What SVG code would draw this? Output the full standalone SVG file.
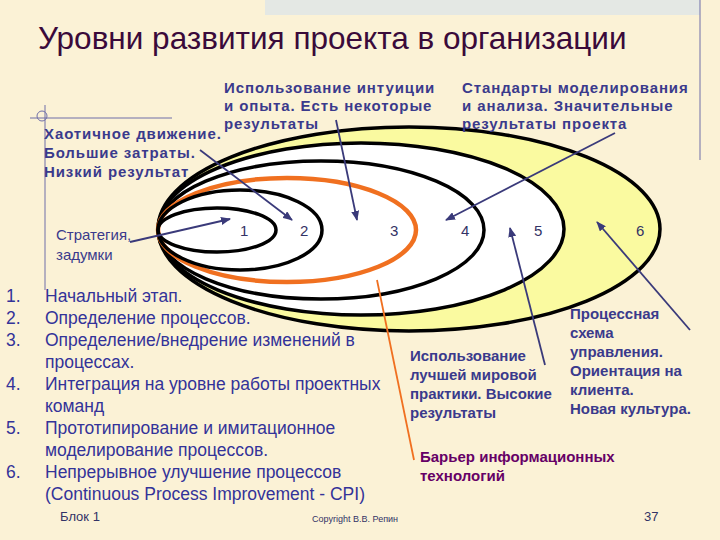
<svg xmlns="http://www.w3.org/2000/svg" width="720" height="540" viewBox="0 0 720 540">
<style>
.lb{font-family:"Liberation Sans",Arial,sans-serif;font-size:15px;font-weight:bold;fill:#3a3a8c}
.top{letter-spacing:0.9px}
.num{font-family:"Liberation Sans",Arial,sans-serif;font-size:15px;fill:#333366}
.li{font-family:"Liberation Sans",Arial,sans-serif;font-size:17.5px;fill:#333399}
.e{stroke:#000;stroke-width:3.5}
.ar{stroke:#3a3a7a;stroke-width:1.8;fill:none;marker-end:url(#ah)}
</style>
<defs><marker id="ah" markerWidth="10" markerHeight="8" refX="9" refY="4" orient="auto" markerUnits="userSpaceOnUse"><path d="M0,0L10,4L0,8z" fill="#3a3a7a"/></marker></defs>
<rect width="720" height="540" fill="#fbf2d6"/>
<rect x="265" y="0" width="435" height="15" fill="#e4e8e4"/>
<g id="decor" stroke="#6f6fa8" stroke-width="1" fill="none">
<line x1="30" y1="118" x2="172" y2="118"/><line x1="45" y1="105" x2="45" y2="290"/><circle cx="42" cy="116" r="5"/>
<line x1="700" y1="0" x2="700" y2="160"/></g>
<text x="38" y="49" font-family="Liberation Sans,Arial,sans-serif" font-size="31.5" fill="#3a0a3a">Уровни развития проекта в организации</text>
<g id="ellipses">
<ellipse cx="409" cy="229" rx="251" ry="102" fill="#fafaa0" class="e"/>
<ellipse cx="361" cy="229" rx="203" ry="86" fill="#fff" class="e"/>
<ellipse cx="321" cy="230" rx="163" ry="69" fill="#fff" class="e"/>
<ellipse cx="287" cy="230" rx="129" ry="52" fill="none" stroke="#f07020" stroke-width="4.5"/>
<ellipse cx="240" cy="230" rx="82" ry="40" fill="none" class="e"/>
<ellipse cx="217" cy="230" rx="59" ry="22" fill="none" class="e"/>
</g>
<g id="numbers" class="num">
<text x="240" y="236">1</text><text x="300" y="236">2</text><text x="390" y="236">3</text><text x="461" y="236">4</text><text x="534" y="236">5</text><text x="636" y="236">6</text></g>
<g id="labels" class="lb">
<text class="top" x="224" y="93">Использование интуиции</text><text class="top" x="224" y="111">и опыта. Есть некоторые</text><text class="top" x="224" y="129">результаты</text>
<text class="top" x="462" y="93">Стандарты моделирования</text><text class="top" x="462" y="111">и анализа. Значительные</text><text class="top" x="462" y="129">результаты проекта</text>
<text class="top" x="44" y="139">Хаотичное движение.</text><text class="top" x="44" y="158">Большие затраты.</text><text class="top" x="44" y="177">Низкий результат</text>
<text x="56" y="240" font-weight="normal">Стратегия,</text><text x="56" y="260" font-weight="normal">задумки</text>
<text x="570" y="319">Процессная</text><text x="570" y="338">схема</text><text x="570" y="357">управления.</text><text x="570" y="376">Ориентация на</text><text x="570" y="395">клиента.</text><text x="570" y="414">Новая культура.</text>
<text x="410" y="361">Использование</text><text x="410" y="380">лучшей мировой</text><text x="410" y="399">практики. Высокие</text><text x="410" y="418">результаты</text>
<text x="420" y="462" fill="#660066">Барьер информационных</text><text x="420" y="481" fill="#660066">технологий</text>
</g>
<g id="connectors">
<line x1="200" y1="150" x2="292" y2="220" class="ar"/>
<line x1="336" y1="120" x2="357" y2="220" class="ar"/>
<line x1="615" y1="133" x2="446" y2="220" class="ar"/>
<line x1="130" y1="242" x2="230" y2="219" class="ar"/>
<line x1="545" y1="365" x2="510" y2="228" class="ar"/>
<line x1="690" y1="330" x2="597" y2="222" class="ar"/>
<line x1="414" y1="460" x2="377" y2="280" stroke="#f07020" stroke-width="1.8"/>
</g>
<g id="list" class="li">
<text x="6" y="302">1.</text><text x="45" y="302">Начальный этап.</text>
<text x="6" y="324">2.</text><text x="45" y="324">Определение процессов.</text>
<text x="6" y="346">3.</text><text x="45" y="346">Определение/внедрение изменений в</text>
<text x="45" y="368">процессах.</text>
<text x="6" y="390">4.</text><text x="45" y="390">Интеграция на уровне работы проектных</text>
<text x="45" y="412">команд</text>
<text x="6" y="434">5.</text><text x="45" y="434">Прототипирование и имитационное</text>
<text x="45" y="456">моделирование процессов.</text>
<text x="6" y="478">6.</text><text x="45" y="478">Непрерывное улучшение процессов</text>
<text x="45" y="500">(Continuous  Process Improvement - CPI)</text>
</g>
<text x="60" y="521" font-family="Liberation Sans,Arial,sans-serif" font-size="13" fill="#333366">Блок 1</text>
<text x="312" y="522" font-family="Liberation Sans,Arial,sans-serif" font-size="9" fill="#333366">Copyright В.В. Репин</text>
<text x="644" y="521" font-family="Liberation Sans,Arial,sans-serif" font-size="13" fill="#333366">37</text>
</svg>
